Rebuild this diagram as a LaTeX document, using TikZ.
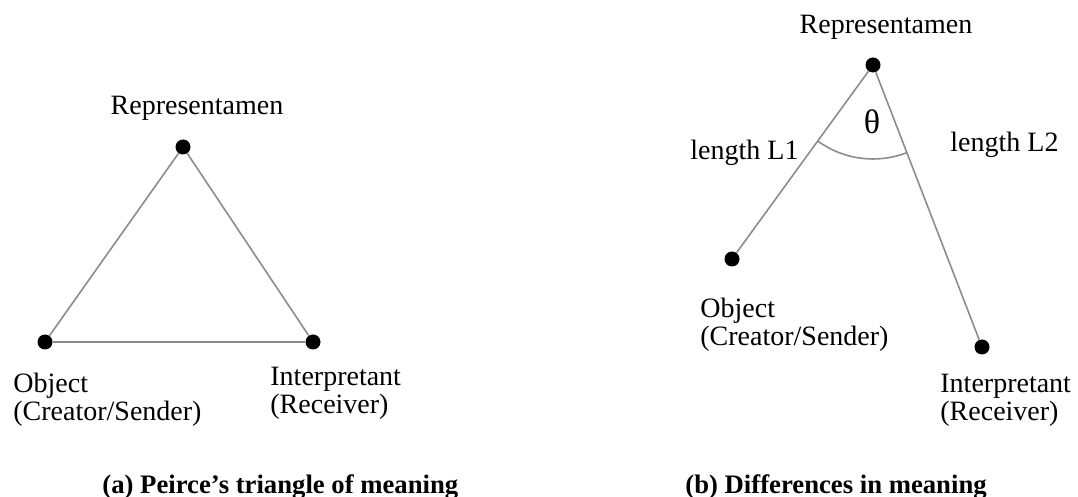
\documentclass[tikz,border=0pt]{standalone}
\usepackage{fontspec}
\setmainfont{Liberation Serif}
\usetikzlibrary{angles}

\begin{document}
\begin{tikzpicture}[x=0.5pt,y=-0.5pt,
    dot/.style={circle, fill=black, inner sep=0pt, minimum size=7.5pt},
    edge/.style={draw=black!45, line width=0.8pt},
    lbl/.style={inner sep=0pt, align=left, font=\fontsize{14}{14}\selectfont},
    capt/.style={inner sep=0pt, font=\fontsize{13.35}{16}\selectfont\bfseries}]
    \useasboundingbox (0,0) rectangle (1078,497);
    % (a) triangle
    \node[dot] (rep1) at (183,147) {};
    \node[dot] (obj1) at (45,342) {};
    \node[dot] (int1) at (313,342) {};
    \draw[edge] (rep1) -- (obj1) -- (int1) -- (rep1);
    \node[lbl, anchor=base] (rep1lbl) at (197,115) {Representamen};
    \node[lbl, anchor=base west] (obj1lbl) at (13,421) {Object\\(Creator/Sender)};
    \node[lbl, anchor=base west] (int1lbl) at (270,414) {Interpretant\\(Receiver)};
    % (b) two arms
    \node[dot] (rep2) at (873,65) {};
    \node[dot] (obj2) at (732,259) {};
    \node[dot] (int2) at (982,347) {};
    \draw[edge] (rep2) -- (obj2);
    \draw[edge] (rep2) -- (int2);
    \pic[edge, angle radius=47pt] {angle=obj2--rep2--int2};
    \node[inner sep=0pt, font=\fontsize{17}{17}\selectfont] (theta) at (872,122) {θ};
    \node[lbl, anchor=base] (rep2lbl) at (886,34) {Representamen};
    \node[lbl, anchor=base west] (len1) at (690,160) {length L1};
    \node[lbl, anchor=base west] (len2) at (950,152) {length L2};
    \node[lbl, anchor=base west] (obj2lbl) at (700,346) {Object\\(Creator/Sender)};
    \node[lbl, anchor=base west] (int2lbl) at (940,421) {Interpretant\\(Receiver)};
    % captions
    \node[capt, anchor=base west] (capa) at (102,494) {(a) Peirce’s triangle of meaning};
    \node[capt, anchor=base west] (capb) at (685,494) {(b) Differences in meaning};
\end{tikzpicture}
\end{document}
